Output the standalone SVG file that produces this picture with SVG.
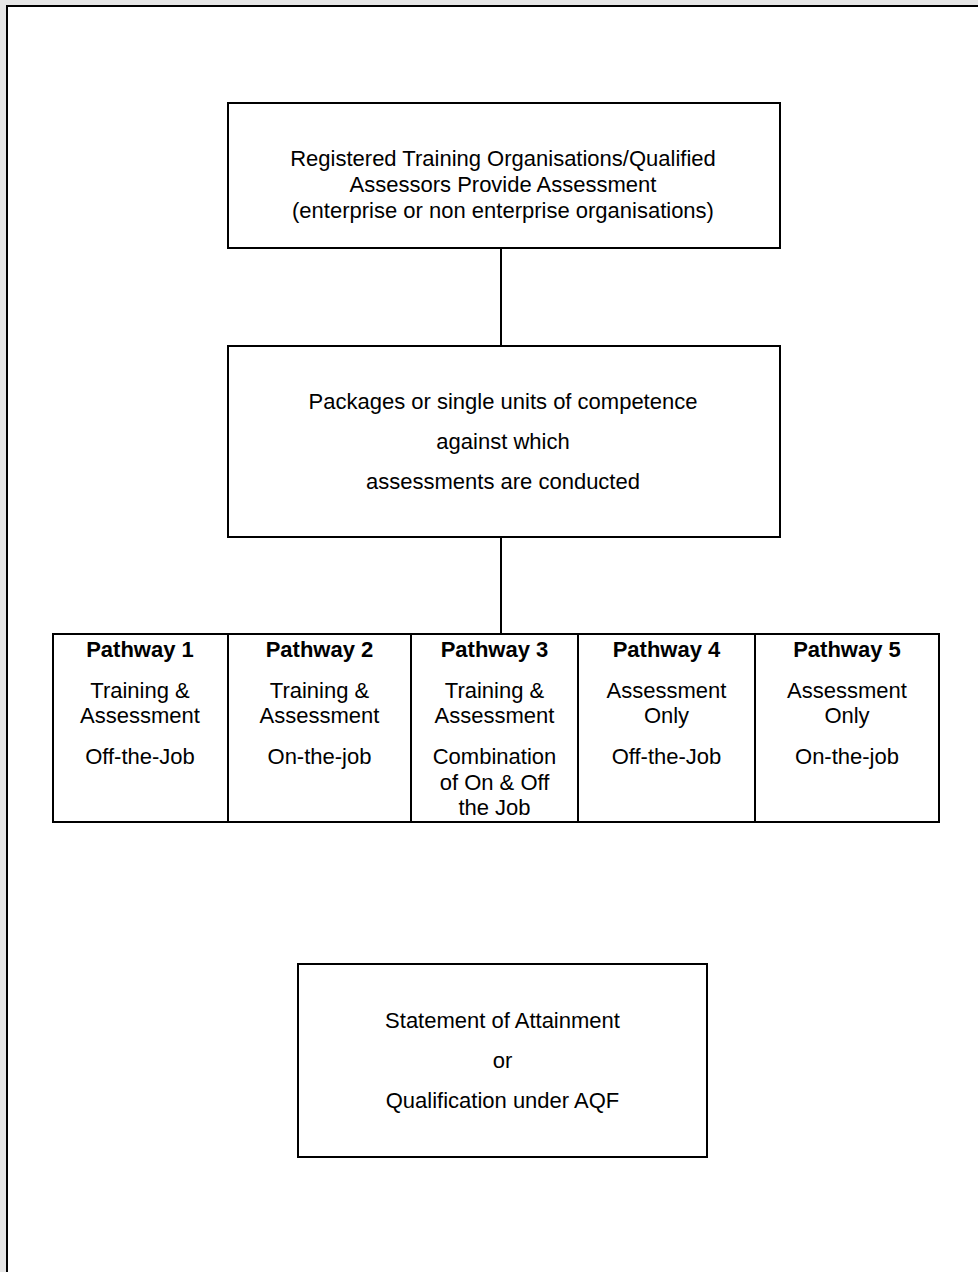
<svg xmlns="http://www.w3.org/2000/svg" width="978" height="1272" viewBox="0 0 978 1272">
<style>
.box{fill:none;stroke:#000;stroke-width:2}
.t{font-family:"Liberation Sans",Arial,sans-serif;font-size:22px;fill:#000;text-anchor:middle}
.b{font-weight:bold}
.c{stroke:#000;stroke-width:2;fill:none}
</style>
<rect x="0" y="0" width="978" height="1272" fill="#e6e6e6"/>
<rect x="7" y="6" width="990" height="1290" fill="#fff" stroke="#000" stroke-width="2"/>
<g id="connectors">
<line class="c" x1="501" y1="248" x2="501" y2="346"/>
<line class="c" x1="501" y1="537" x2="501" y2="634"/>
</g>
<g id="providers">
<rect class="box" x="228" y="103" width="552" height="145"/>
<text class="t" x="503" y="166">Registered Training Organisations/Qualified</text>
<text class="t" x="503" y="192">Assessors Provide Assessment</text>
<text class="t" x="503" y="218">(enterprise or non enterprise organisations)</text>
</g>
<g id="packages">
<rect class="box" x="228" y="346" width="552" height="191"/>
<text class="t" x="503" y="409">Packages or single units of competence</text>
<text class="t" x="503" y="449">against which</text>
<text class="t" x="503" y="489">assessments are conducted</text>
</g>
<g id="pathways">
<rect class="box" x="53" y="634" width="886" height="188"/>
<line class="c" x1="228" y1="634" x2="228" y2="822"/>
<line class="c" x1="411" y1="634" x2="411" y2="822"/>
<line class="c" x1="578" y1="634" x2="578" y2="822"/>
<line class="c" x1="755" y1="634" x2="755" y2="822"/>
</g>
<g id="pathway1">
<text class="t b" x="140" y="657">Pathway 1</text>
<text class="t" x="140" y="698">Training &amp;</text>
<text class="t" x="140" y="723">Assessment</text>
<text class="t" x="140" y="764">Off-the-Job</text>
</g>
<g id="pathway2">
<text class="t b" x="319.5" y="657">Pathway 2</text>
<text class="t" x="319.5" y="698">Training &amp;</text>
<text class="t" x="319.5" y="723">Assessment</text>
<text class="t" x="319.5" y="764">On-the-job</text>
</g>
<g id="pathway3">
<text class="t b" x="494.5" y="657">Pathway 3</text>
<text class="t" x="494.5" y="698">Training &amp;</text>
<text class="t" x="494.5" y="723">Assessment</text>
<text class="t" x="494.5" y="764">Combination</text>
<text class="t" x="494.5" y="790">of On &amp; Off</text>
<text class="t" x="494.5" y="815">the Job</text>
</g>
<g id="pathway4">
<text class="t b" x="666.5" y="657">Pathway 4</text>
<text class="t" x="666.5" y="698">Assessment</text>
<text class="t" x="666.5" y="723">Only</text>
<text class="t" x="666.5" y="764">Off-the-Job</text>
</g>
<g id="pathway5">
<text class="t b" x="847" y="657">Pathway 5</text>
<text class="t" x="847" y="698">Assessment</text>
<text class="t" x="847" y="723">Only</text>
<text class="t" x="847" y="764">On-the-job</text>
</g>
<g id="outcome">
<rect class="box" x="298" y="964" width="409" height="193"/>
<text class="t" x="502.5" y="1028">Statement of Attainment</text>
<text class="t" x="502.5" y="1068">or</text>
<text class="t" x="502.5" y="1108">Qualification under AQF</text>
</g>
</svg>
